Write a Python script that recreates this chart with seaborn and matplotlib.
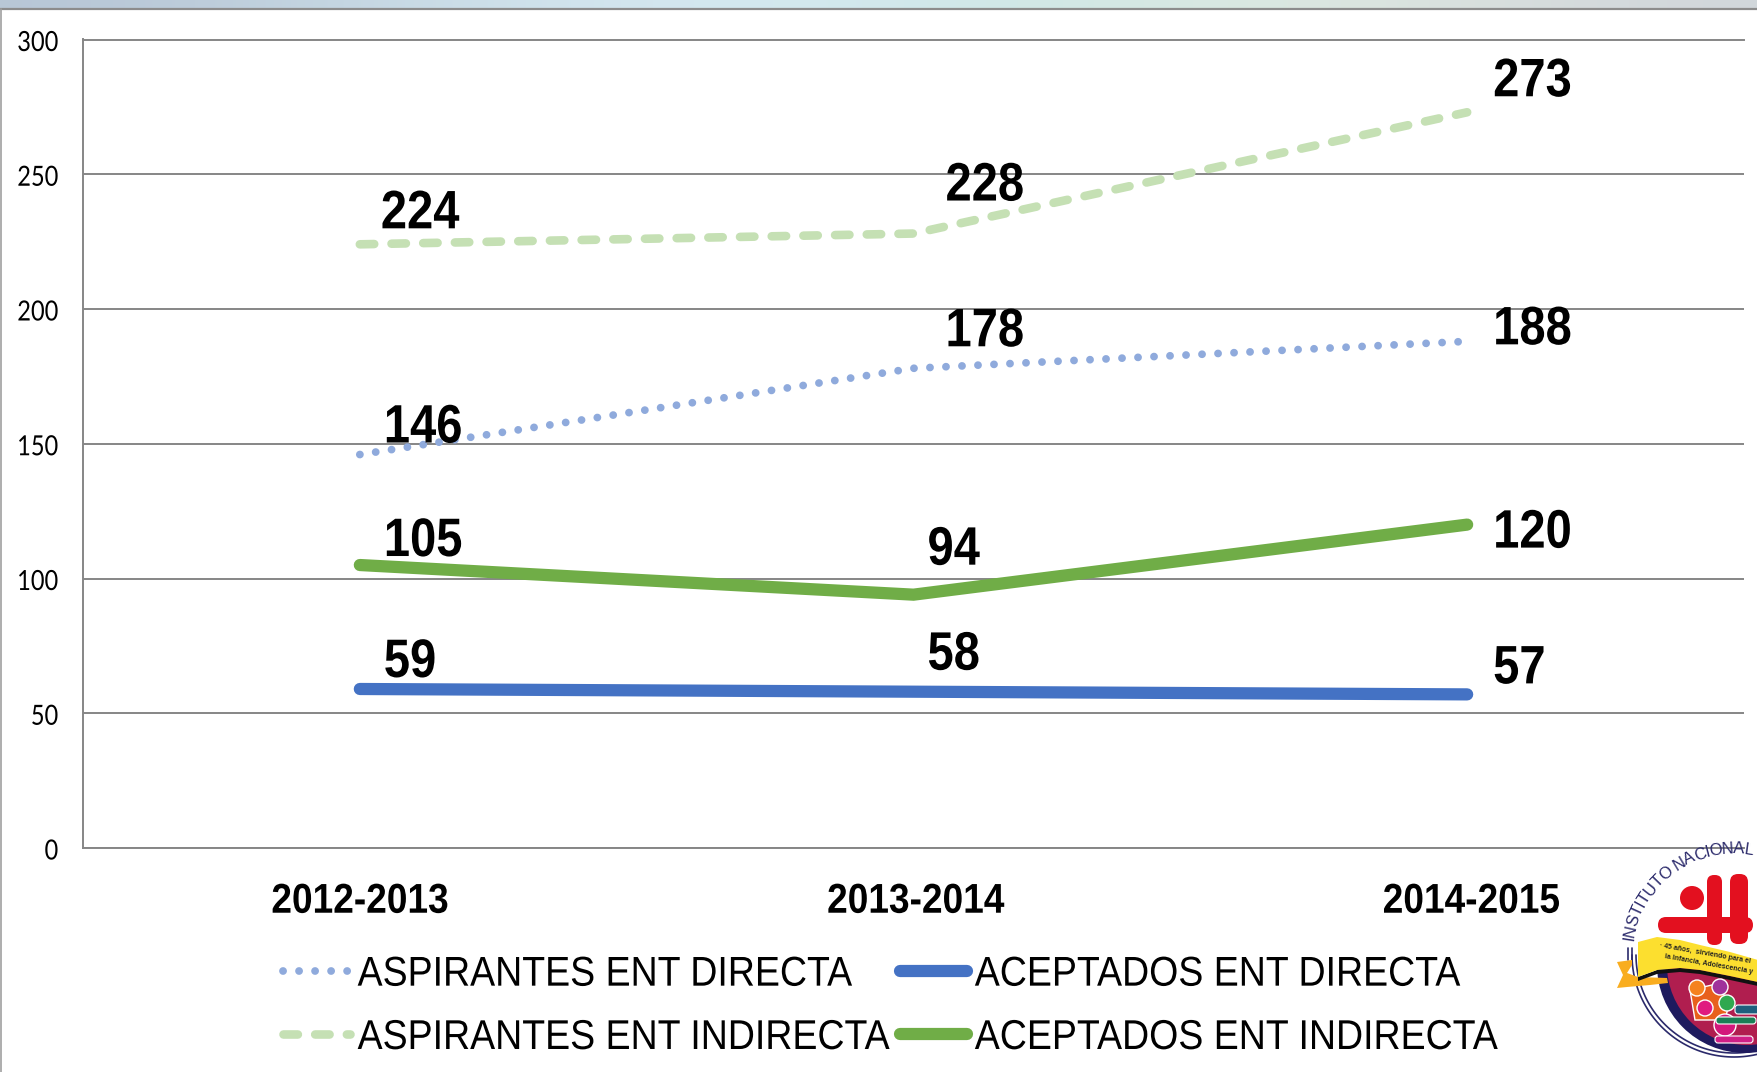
import numpy as np
import pandas as pd
import matplotlib
matplotlib.use("Agg")
import matplotlib.pyplot as plt
from matplotlib.patches import Circle, Polygon, Wedge, FancyBboxPatch
from matplotlib.patheffects import AbstractPathEffect
from matplotlib.textpath import TextPath
from matplotlib.font_manager import FontProperties
from matplotlib.transforms import Affine2D
import seaborn as sns

periods = ["2012-2013", "2013-2014", "2014-2015"]
aspirantes_directa = [146, 178, 188]
aceptados_directa = [59, 58, 57]
aspirantes_indirecta = [224, 228, 273]
aceptados_indirecta = [105, 94, 120]
y_ticks = [0, 50, 100, 150, 200, 250, 300]

# label placement, pixels away from the point (dx, dy)
off_asp_dir = [(24, 26), (32, 36), (26, 11)]
off_ace_dir = [(24, 26), (14, 36), (26, 25)]
off_asp_ind = [(21, 30), (32, 47), (26, 30)]
off_ace_ind = [(24, 23), (14, 44), (26, -9)]

FONT = ["Liberation Sans", "DejaVu Sans"]
GRAY = "#868686"


class Squeeze(AbstractPathEffect):
    # no narrow font here, so squeeze the glyphs sideways when they get drawn
    def __init__(self, sx, anchor="left", dx=0, dy=0):
        self.sx, self.anchor, self.dx, self.dy = sx, anchor, dx, dy

    def draw_path(self, renderer, gc, tpath, affine, rgbFace=None):
        ext = tpath.get_extents()
        x0 = {"left": 0, "center": (ext.x0 + ext.x1) / 2, "right": ext.x1}[self.anchor]
        squeeze = Affine2D().translate(-x0, 0).scale(self.sx, 1).translate(x0, 0)
        renderer.draw_path(gc, tpath, squeeze + affine + Affine2D().translate(self.dx, self.dy), rgbFace)


sns.set_theme(style="white")
plt.rcParams["font.family"] = FONT

W, H = 1758, 1072
fig = plt.figure(figsize=(W / 100, H / 100), dpi=100, facecolor="white")
ax = fig.add_axes([83 / W, 1 - 848 / H, (1744 - 83) / W, (848 - 39.5) / H])

series = [
    ("ASPIRANTES ENT DIRECTA", aspirantes_directa, "#8faadc", 5.6, (0, (0.01, 2.05)), off_asp_dir),
    ("ACEPTADOS ENT DIRECTA", aceptados_directa, "#4472c4", 8.8, "-", off_ace_dir),
    ("ASPIRANTES ENT INDIRECTA", aspirantes_indirecta, "#c5e0b4", 6.2, (0, (1.67, 2.01)), off_asp_ind),
    ("ACEPTADOS ENT INDIRECTA", aceptados_indirecta, "#70ad47", 8.8, "-", off_ace_ind),
]

for name, vals, col, lw, ls, offs in series:
    df = pd.DataFrame({"periodo": periods, "valor": vals})
    sns.lineplot(data=df, x="periodo", y="valor", ax=ax, color=col, linewidth=lw,
                 linestyle=ls, label=name, dash_capstyle="round", solid_capstyle="round",
                 solid_joinstyle="miter", zorder=3)
    for i, v in enumerate(vals):
        ax.annotate(str(v), (i, v), xytext=offs[i], textcoords="offset pixels",
                    ha="left", va="center", fontsize=39, fontweight="bold",
                    color="black", zorder=5, annotation_clip=False,
                    path_effects=[Squeeze(0.87)])

ax.set_xlim(-0.5, 2.5)
ax.set_ylim(0, 300)
ax.set_yticks(y_ticks)
ax.set_xlabel("")
ax.set_ylabel("")
ax.yaxis.grid(True, color=GRAY, linewidth=1.4)
ax.xaxis.grid(False)
ax.set_axisbelow(True)
ax.spines["right"].set_visible(False)
for s in ["left", "bottom", "top"]:
    ax.spines[s].set_color(GRAY)
    ax.spines[s].set_linewidth(1.4)
ax.tick_params(axis="y", length=0, pad=17, labelsize=20)
for t in ax.get_yticklabels():
    t.set_fontfamily(["Lato", "DejaVu Sans"])
    t.set_color("black")
    t.set_path_effects([Squeeze(0.85, "right", dx=-1, dy=-1)])
ax.tick_params(axis="x", length=0, pad=25)
for i, t in enumerate(ax.get_xticklabels()):
    t.set_fontsize(30)
    t.set_fontweight("bold")
    t.set_color("black")
    t.set_path_effects([Squeeze(0.89, "center", dx=[0, 2, 4][i], dy=1)])

# legend goes down the columns, aspirantes first
h, l = ax.get_legend_handles_labels()
order = [0, 2, 1, 3]
leg = ax.legend([h[i] for i in order], [l[i] for i in order], ncol=2, frameon=False,
                loc="lower left", bbox_to_anchor=(283 / W, 1 - 1058 / H),
                bbox_transform=fig.transFigure, fontsize=30, handlelength=1.6,
                handletextpad=0.19, columnspacing=-1.14, labelspacing=0.56,
                borderpad=0, borderaxespad=0, labelcolor="black")
for t in leg.get_texts():
    t.set_path_effects([Squeeze(0.90)])

# overlay in image pixels for the window edge and the logo
over = fig.add_axes([0, 0, 1, 1], facecolor="none", zorder=10)
band = np.array([[0.72, 0.78, 0.84], [0.80, 0.87, 0.91], [0.84, 0.92, 0.95],
                 [0.80, 0.90, 0.90], [0.88, 0.92, 0.88], [0.82, 0.84, 0.86]])[np.newaxis, :, :]
over.imshow(band, extent=(0, W, 8, 0), aspect="auto", interpolation="bicubic", zorder=1)
over.set_xlim(0, W)
over.set_ylim(H, 0)
over.axis("off")
over.plot([0, W], [9, 9], color="#8c8c8c", lw=1.6, zorder=2)
over.plot([1.5, 1.5], [9, H], color="#a0a0a0", lw=1.2, zorder=2)

# logo
NAVY = "#2b2a6b"
cx, cy, r = 1734, 955, 102
ring_t = np.radians(np.linspace(-5, -180, 100))
for rr in [r, r - 4]:
    over.plot(cx + rr * np.cos(ring_t), cy - rr * np.sin(ring_t), color=NAVY, lw=1.2, zorder=3)
over.plot([1628, 1628], [948, 960], color=NAVY, lw=1.2, zorder=3)
over.plot([1632, 1632], [948, 960], color=NAVY, lw=1.2, zorder=3)

# dark and crimson disc under the banner (y axis is flipped here)
over.add_patch(Wedge((1745, 965), 88, 0, 180, fc="#1e1a5e", ec="none", zorder=3))
over.add_patch(Wedge((1747, 965), 80, 0, 180, fc="#b01e4f", ec="none", zorder=4))

# red figures
red = "#e3101f"
over.add_patch(Circle((1692, 898), 12, fc=red, ec="none", zorder=4))
over.add_patch(FancyBboxPatch((1658, 917), 95, 16, boxstyle="round,pad=0,rounding_size=8", fc=red, ec="none", zorder=4))
over.add_patch(FancyBboxPatch((1707, 875), 15, 70, boxstyle="round,pad=0,rounding_size=7", fc=red, ec="none", zorder=4))
over.add_patch(FancyBboxPatch((1730, 874), 18, 70, boxstyle="round,pad=0,rounding_size=8", fc=red, ec="none", zorder=4))

# banner
over.add_patch(Polygon([(1617, 962), (1632, 960), (1632, 965), (1627, 973), (1638, 977), (1667, 978),
                        (1668, 983), (1650, 985), (1627, 987), (1617, 988), (1623, 975)],
                       fc="#f9ad1f", ec="none", zorder=5))
bx = np.array([1638, 1657, 1680, 1700, 1730, 1758])
btop = np.array([942, 937, 940, 945, 952, 960])
bbot = np.array([977, 970, 968, 970, 976, 982])
over.add_patch(Polygon(list(zip(bx, bbot + 4)) + list(zip(bx[::-1], bbot[::-1])), fc="#111111", ec="none", zorder=5))
over.add_patch(Polygon(list(zip(bx, btop)) + list(zip(bx[::-1], bbot[::-1])), fc="#fcdf2f", ec="none", zorder=6))
for txt, x0, y0 in [("· 45 años,  sirviendo para el", 1660, 946),
                    ("la Infancia, Adolescencia y", 1665, 957)]:
    over.text(x0, y0, txt, fontsize=5, fontweight="bold", family=FONT, rotation=-10,
              rotation_mode="anchor", va="center", color="#222222", zorder=7)

# mother and children blob
over.add_patch(Polygon([(1690, 990), (1712, 985), (1730, 1000), (1725, 1020), (1695, 1020)],
                       fc="#e8601c", ec="white", lw=1, zorder=7))
for (bxx, byy, rad, col) in [(1697, 988, 8, "#f58220"), (1720, 987, 8, "#a0329b"), (1705, 1008, 8, "#e01a7f"),
                             (1727, 1003, 8, "#2fa84f"), (1725, 1025, 11, "#d3187c")]:
    over.add_patch(Circle((bxx, byy), rad, fc=col, ec="white", lw=1, zorder=7))
over.add_patch(FancyBboxPatch((1716, 1017), 40, 7, boxstyle="round,pad=0,rounding_size=3", fc="#1a7f55", ec="white", lw=0.8, zorder=7))
over.add_patch(FancyBboxPatch((1735, 1005), 30, 9, boxstyle="round,pad=0,rounding_size=3", fc="#1f5f7d", ec="white", lw=0.8, zorder=7))
over.add_patch(FancyBboxPatch((1715, 1036), 38, 7, boxstyle="round,pad=0,rounding_size=3", fc="#cf1f86", ec="white", lw=0.8, zorder=7))

# arc text, spaced by glyph width
logo_text = "INSTITUTO NACIONAL"
fp = FontProperties(family=FONT[0])
widths = [4.0 if ch == " " else TextPath((0, 0), ch, size=12, prop=fp).get_extents().width + 2.5 for ch in logo_text]
edges = np.cumsum([0] + widths[:-1]) + np.array(widths) / 2
angles = 172 - (172 - 82) * edges / edges[-1]
for ch, a in zip(logo_text, angles):
    rad = np.radians(a)
    over.text(cx + 106 * np.cos(rad), cy - 106 * np.sin(rad), ch, rotation=a - 90, ha="center", va="center",
              rotation_mode="anchor", fontsize=12, family=FONT, color=NAVY, zorder=7)

fig.savefig("out.png", dpi=100, facecolor="white")
